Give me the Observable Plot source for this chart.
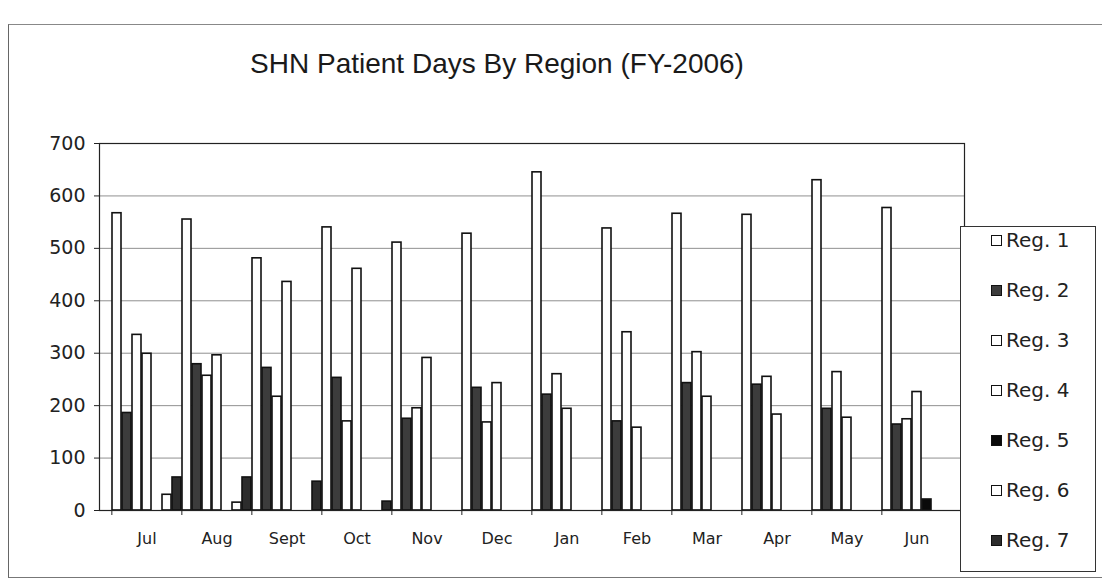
<!DOCTYPE html>
<html>
<head>
<meta charset="utf-8">
<script src="https://cdn.jsdelivr.net/npm/d3@7"></script>
<script src="https://cdn.jsdelivr.net/npm/@observablehq/plot@0.6"></script>
<style>
  html, body { margin: 0; padding: 0; background: #fff; }
  #wrap { position: relative; width: 1102px; height: 582px; overflow: hidden; background: #fff; }
  #outer { position: absolute; left: 8px; top: 24px; width: 1100px; height: 552px;
           border-left: 1.5px solid #666; border-top: 1.5px solid #888; border-bottom: 1.5px solid #777; }
  #title { position: absolute; left: 0; top: 48px; width: 994px; text-align: center;
           font-family: "Liberation Sans", Arial, sans-serif; font-size: 28px; color: #1a1a1a; }
  #chart { position: absolute; left: 0; top: 100px; }
  #legend { position: absolute; left: 960px; top: 226px; width: 136px; height: 346px;
            border: 1.2px solid #333; background: #fff; box-sizing: border-box; }
  #legend .inner { margin-top: -12px; }
  .lrow { height: 50px; display: flex; align-items: center; padding-left: 30px;
          font-family: "DejaVu Sans", sans-serif; font-size: 20px; color: #222; }
  .sw { width: 11px; height: 11px; border: 1.5px solid #111; margin-right: 4px; box-sizing: border-box; }
</style>
</head>
<body>
<div id="wrap">
  <div id="outer"></div>
  <div id="title">SHN Patient Days By Region (FY-2006)</div>
  <div id="chart"></div>
  <div id="legend"><div class="inner"></div></div>
</div>
<script>
// ---- data ----
const months = ["Jul", "Aug", "Sept", "Oct", "Nov", "Dec", "Jan", "Feb", "Mar", "Apr", "May", "Jun"];
const regions = ["Reg. 1", "Reg. 2", "Reg. 3", "Reg. 4", "Reg. 5", "Reg. 6", "Reg. 7"];
const reg1 = [567, 555, 481, 540, 511, 528, 645, 538, 566, 564, 630, 577];
const reg2 = [186, 279, 272, 253, 175, 234, 221, 170, 243, 240, 194, 164];
const reg3 = [335, 257, 217, 170, 195, 168, 260, 340, 302, 255, 264, 174];
const reg4 = [299, 296, 436, 461, 291, 243, 194, 158, 217, 183, 177, 226];
const reg5 = [0, 0, 0, 0, 0, 0, 0, 0, 0, 0, 0, 21];
const reg6 = [30, 15, 0, 0, 0, 0, 0, 0, 0, 0, 0, 0];
const reg7 = [63, 63, 55, 17, 0, 0, 0, 0, 0, 0, 0, 0];
const yTicks = [0, 100, 200, 300, 400, 500, 600, 700];

// ---- styles ----
const fills = ["#ffffff", "#3c3c3c", "#ffffff", "#ffffff", "#0a0a0a", "#ffffff", "#2c2c2c"];

const series = [reg1, reg2, reg3, reg4, reg5, reg6, reg7];
const keys = months.flatMap(m => regions.map(r => m + "|" + r));
const data = months.flatMap((m, i) => regions.map((r, j) => ({
  month: m, region: r, key: m + "|" + r, value: series[j][i]
})));
const centerKeys = months.map(m => m + "|" + regions[3]);
const firstKeys = months.map(m => m + "|" + regions[0]);

const W = 1102, H = 482, ML = 99, MR = 138, MT = 43, MB = 72;
const step = (W - ML - MR) / keys.length;

const chart = Plot.plot({
  width: W, height: H,
  marginLeft: ML, marginRight: MR, marginTop: MT, marginBottom: MB,
  style: { fontFamily: "DejaVu Sans, sans-serif", fontSize: "16px", color: "#222", background: "transparent" },
  x: { type: "band", domain: keys, padding: 0.08 },
  y: { domain: [0, 700] },
  color: { domain: regions, range: fills },
  marks: [
    Plot.gridY(yTicks, { stroke: "#555", strokeOpacity: 0.65 }),
    Plot.barY(data, { x: "key", y: "value", fill: "region", stroke: "#111", strokeWidth: 1.6, filter: d => d.value > 0 }),
    Plot.frame({ stroke: "#222", strokeWidth: 1.2 }),
    Plot.axisY(yTicks, { tickSize: 5, tickPadding: 9, fontSize: 19, label: null, stroke: "#222" }),
    Plot.axisX(centerKeys, { tickSize: 0, tickPadding: 22, fontSize: 16, label: null, tickFormat: d => d.split("|")[0] }),
    Plot.axisX(firstKeys, { tickSize: 5, dx: -step / 2, tickFormat: () => "", label: null, stroke: "#222" })
  ]
});
document.getElementById("chart").appendChild(chart);

// ---- legend ----
const legend = d3.select("#legend .inner");
regions.forEach((r, j) => {
  const row = legend.append("div").attr("class", "lrow");
  row.append("div").attr("class", "sw").style("background", fills[j]);
  row.append("span").text(r);
});
</script>
</body>
</html>
